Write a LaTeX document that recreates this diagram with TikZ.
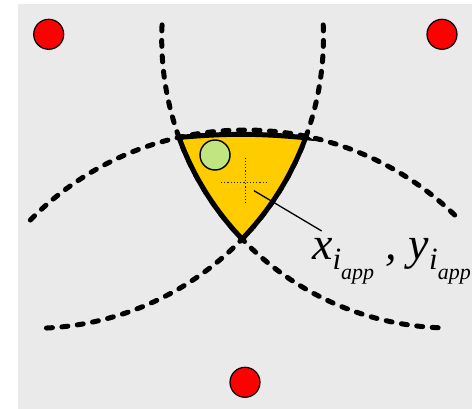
\documentclass[tikz,border=0pt]{standalone}
\usepackage{fontspec}
\setmainfont{Liberation Serif}
\definecolor{bggray}{HTML}{EAEAEA}
\definecolor{gold}{HTML}{FFCC00}
\definecolor{lgreen}{HTML}{BFE680}
\definecolor{dotred}{HTML}{FF0000}
\tikzset{
  rangearc/.style={line width=5pt, line cap=round, dash pattern=on 6pt off 9.5pt},
  anchordot/.style={circle, draw=black, line width=1.2pt, fill=dotred, minimum size=30pt, inner sep=0pt},
  estdot/.style={circle, draw=black, line width=1.4pt, fill=lgreen, minimum size=30pt, inner sep=0pt},
  regionedge/.style={draw=black, line width=5pt, line join=miter, fill=gold},
  crossline/.style={line width=1.2pt, dash pattern=on 1.2pt off 2pt, draw=black!85},
  leader/.style={line width=1.3pt, draw=black}
}
\begin{document}
\begin{tikzpicture}[x=1pt,y=-1pt]
\useasboundingbox (0,0) rectangle (472,409);
\fill[bggray] (18,4) rectangle (472,409);

% range arcs
\draw[rangearc] plot[domain=182.8:91.1, samples=120] ({450.7+289*cos(\x)},{39+289*sin(\x)});
\draw[rangearc] plot[domain=-2.4:88.5, samples=120] ({32.2+291.3*cos(\x)},{37.1+291.3*sin(\x)});
\draw[rangearc] plot[domain=224.5:315.5, samples=120] ({245+301*cos(\x)},{431+301*sin(\x)});

% intersection region
\coordinate (v1) at (179,137.4);
\coordinate (v2) at (305.6,137.7);
\path[regionedge] (v1) to[bend left=5] (v2)
  -- plot[domain=20.2:43.7, samples=40] ({32.2+291.3*cos(\x)},{37.1+291.3*sin(\x)})
  -- plot[domain=136.2:160.2, samples=40] ({450.7+289*cos(\x)},{39+289*sin(\x)})
  -- cycle;

% anchors
\node[anchordot] (a1) at (48.7,34.3) {};
\node[anchordot] (a2) at (442,34.3) {};
\node[anchordot] (a3) at (245,382.3) {};

% estimated position
\node[estdot] (est) at (215,155) {};

% approximate centre cross
\coordinate (ch1) at (221,182.7);
\coordinate (ch2) at (266.7,182.7);
\coordinate (cv1) at (245.7,157.7);
\coordinate (cv2) at (245.7,203.3);
\draw[crossline] (ch1) -- (ch2);
\draw[crossline] (cv1) -- (cv2);

% label and leader
\node[anchor=base west, inner sep=0pt] (lbl) at (312,260)
  {\fontsize{46}{46}\selectfont\itshape x\raisebox{-10pt}{\fontsize{31}{31}\selectfont i\raisebox{-10pt}{\fontsize{22}{22}\selectfont app}} , y\raisebox{-10pt}{\fontsize{31}{31}\selectfont i\raisebox{-10pt}{\fontsize{22}{22}\selectfont app}}};
\coordinate (lstart) at (254,190.7);
\coordinate (lend) at (321.7,231);
\draw[leader] (lstart) -- (lend);
\end{tikzpicture}
\end{document}
